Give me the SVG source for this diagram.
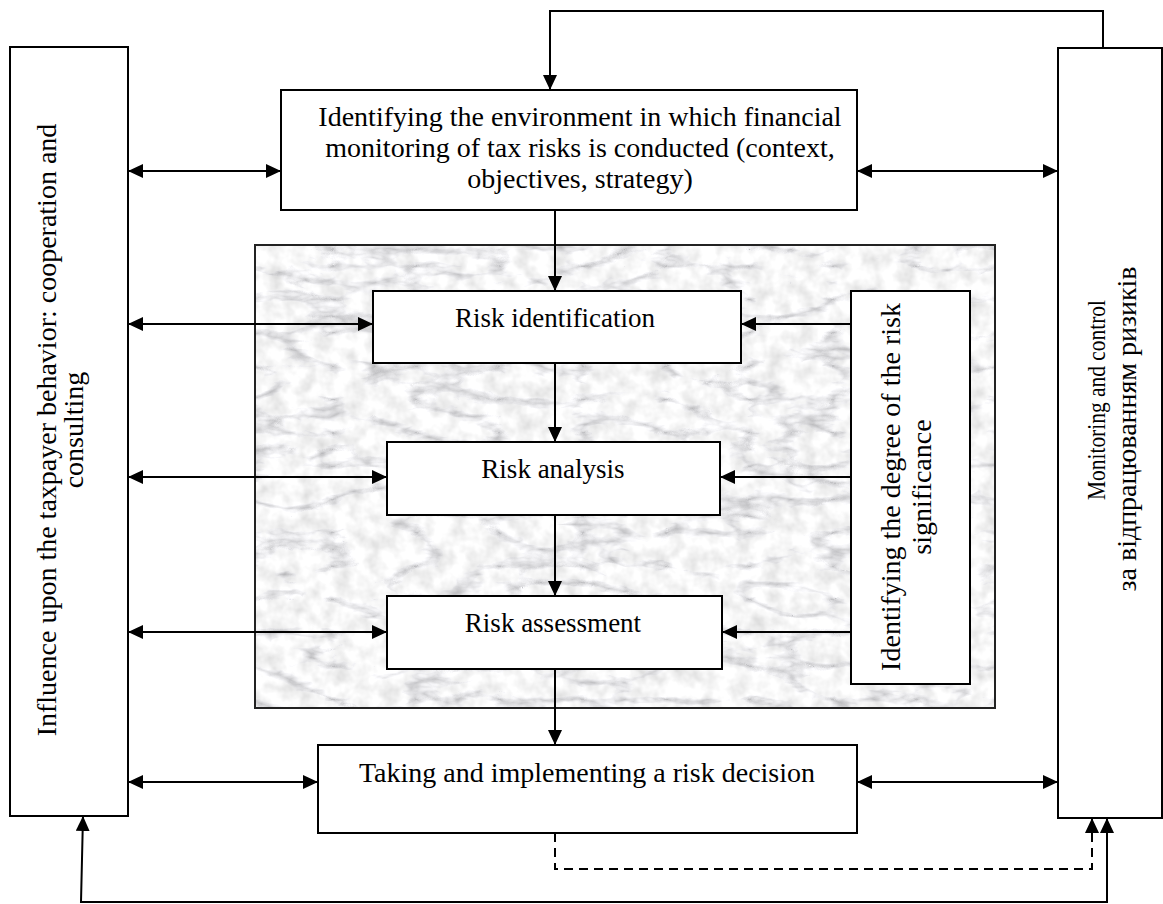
<svg xmlns="http://www.w3.org/2000/svg" width="1163" height="904" viewBox="0 0 1163 904">
<style>
.box{fill:#fff;stroke:#000;stroke-width:2}
.t{font-family:"Liberation Serif","Times New Roman",serif;fill:#000}
.c{stroke:#000;stroke-width:2;fill:none}
.d{stroke:#000;stroke-width:2;fill:none;stroke-dasharray:9 6}
</style>
<defs>
<marker id="ah" viewBox="0 0 15 14" refX="15" refY="7" markerWidth="15" markerHeight="14" markerUnits="userSpaceOnUse" orient="auto-start-reverse">
<path d="M0,0 L15,7 L0,14 z" fill="#000"/>
</marker>
<filter id="marble" x="0" y="0" width="1" height="1" filterUnits="objectBoundingBox">
<feTurbulence type="turbulence" baseFrequency="0.012 0.03" numOctaves="4" seed="11" result="n"/>
<feColorMatrix in="n" type="matrix" values="1.6 0 0 0 0.58  1.6 0 0 0 0.58  1.6 0 0 0 0.6  0 0 0 0 1" result="v"/>
<feTurbulence type="fractalNoise" baseFrequency="0.06" numOctaves="3" seed="3" result="f"/>
<feColorMatrix in="f" type="matrix" values="0.5 0 0 0 0.68  0.5 0 0 0 0.68  0.5 0 0 0 0.68  0 0 0 0 1" result="g"/>
<feBlend in="v" in2="g" mode="multiply"/>
</filter>
</defs>
<rect width="1163" height="904" fill="#fff"/>

<g id="panel">
<rect x="255" y="245" width="740" height="463" fill="#e8e8e8" filter="url(#marble)"/>
<rect x="255" y="245" width="740" height="463" fill="none" stroke="#222" stroke-width="2"/>
</g>

<g id="connectors">
<polyline class="c" points="1103,48 1103,11 550,11 550,90" marker-end="url(#ah)"/>
<line class="c" x1="555" y1="210" x2="555" y2="291" marker-end="url(#ah)"/>
<line class="c" x1="555" y1="363" x2="555" y2="442" marker-end="url(#ah)"/>
<line class="c" x1="555" y1="515" x2="555" y2="596" marker-end="url(#ah)"/>
<line class="c" x1="555" y1="669" x2="555" y2="745" marker-end="url(#ah)"/>
<line class="c" x1="128" y1="171" x2="281" y2="171" marker-start="url(#ah)" marker-end="url(#ah)"/>
<line class="c" x1="128" y1="324" x2="373" y2="324" marker-start="url(#ah)" marker-end="url(#ah)"/>
<line class="c" x1="128" y1="477" x2="387" y2="477" marker-start="url(#ah)" marker-end="url(#ah)"/>
<line class="c" x1="128" y1="632" x2="387" y2="632" marker-start="url(#ah)" marker-end="url(#ah)"/>
<line class="c" x1="128" y1="782" x2="318" y2="782" marker-start="url(#ah)" marker-end="url(#ah)"/>
<line class="c" x1="857" y1="171" x2="1058" y2="171" marker-start="url(#ah)" marker-end="url(#ah)"/>
<line class="c" x1="857" y1="782" x2="1058" y2="782" marker-start="url(#ah)" marker-end="url(#ah)"/>
<line class="c" x1="851" y1="324" x2="741" y2="324" marker-end="url(#ah)"/>
<line class="c" x1="851" y1="477" x2="720" y2="477" marker-end="url(#ah)"/>
<line class="c" x1="851" y1="632" x2="722" y2="632" marker-end="url(#ah)"/>
<polyline class="d" points="555,833 555,869 1092,869 1092,818" marker-end="url(#ah)"/>
<polyline class="c" points="1107,818 1107,902 81,902 83,816" marker-start="url(#ah)" marker-end="url(#ah)"/>
</g>

<g id="n-left">
<rect class="box" x="10" y="47" width="118" height="769"/>
<text class="t" font-size="28" text-anchor="middle" transform="translate(56,430) rotate(-90)">Influence upon the taxpayer behavior: cooperation and</text>
<text class="t" font-size="28" text-anchor="middle" transform="translate(83,430) rotate(-90)">consulting</text>
</g>

<g id="n-right">
<rect class="box" x="1058" y="48" width="104" height="770"/>
<text class="t" font-size="25" text-anchor="middle" textLength="200" lengthAdjust="spacingAndGlyphs" transform="translate(1105,400) rotate(-90)">Monitoring and control</text>
<text class="t" font-size="27" text-anchor="middle" textLength="325" lengthAdjust="spacingAndGlyphs" transform="translate(1136,429) rotate(-90)">за відпрацюванням ризиків</text>
</g>

<g id="n-env">
<rect class="box" x="281" y="90" width="576" height="120"/>
<text class="t" font-size="28" text-anchor="middle" x="580" y="126">Identifying the environment in which financial</text>
<text class="t" font-size="28" text-anchor="middle" x="580" y="157">monitoring of tax risks is conducted (context,</text>
<text class="t" font-size="28" text-anchor="middle" x="580" y="188">objectives, strategy)</text>
</g>

<g id="n-ident">
<rect class="box" x="373" y="291" width="368" height="72"/>
<text class="t" font-size="27" text-anchor="middle" x="555" y="327">Risk identification</text>
</g>

<g id="n-analysis">
<rect class="box" x="387" y="442" width="333" height="73"/>
<text class="t" font-size="27" text-anchor="middle" x="553" y="478">Risk analysis</text>
</g>

<g id="n-assess">
<rect class="box" x="387" y="596" width="335" height="73"/>
<text class="t" font-size="27" text-anchor="middle" x="553" y="632">Risk assessment</text>
</g>

<g id="n-degree">
<rect class="box" x="851" y="291" width="119" height="393"/>
<text class="t" font-size="28" text-anchor="middle" transform="translate(900,487) rotate(-90)">Identifying the degree of the risk</text>
<text class="t" font-size="28" text-anchor="middle" transform="translate(931,487) rotate(-90)">significance</text>
</g>

<g id="n-decision">
<rect class="box" x="318" y="745" width="539" height="88"/>
<text class="t" font-size="28" text-anchor="middle" x="587" y="782">Taking and implementing a risk decision</text>
</g>
</svg>
